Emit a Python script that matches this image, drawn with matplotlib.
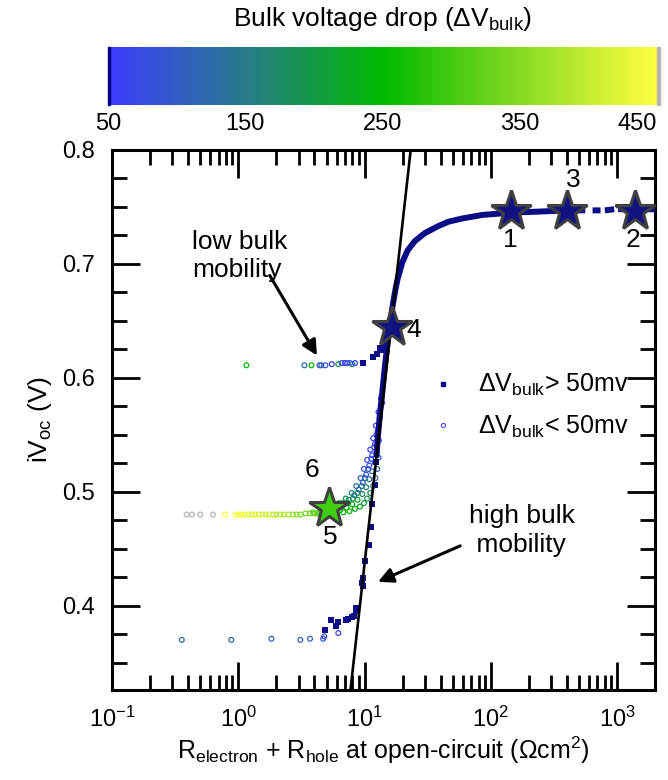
import matplotlib
matplotlib.use('Agg')
import matplotlib.pyplot as plt
import numpy as np
from matplotlib.colors import LinearSegmentedColormap, Normalize
from matplotlib.lines import Line2D
from matplotlib.patches import Rectangle

plt.rcParams['font.family'] = ['Liberation Sans', 'DejaVu Sans']
plt.rcParams['mathtext.fontset'] = 'custom'
plt.rcParams['mathtext.rm'] = 'Liberation Sans'
plt.rcParams['mathtext.it'] = 'Liberation Sans'
plt.rcParams['mathtext.bf'] = 'Liberation Sans'

# main navy curve (thick, dense part)
main_x = [12.4, 12.8, 13.3, 13.9, 14.5, 15.2, 16.0, 16.8, 17.6, 18.3, 20.0, 22.0, 25.0, 30.0,
          38.0, 46.0, 60.0, 86.0, 144.0, 250.0, 400.0, 560.0, np.nan, 640.0, 740.0, np.nan,
          800.0, 950.0, np.nan, 1020.0, 1500.0, 2000.0]
main_y = [0.53, 0.55, 0.57, 0.59, 0.61, 0.63, 0.65, 0.665, 0.678, 0.687, 0.702, 0.712, 0.720, 0.727,
          0.733, 0.737, 0.740, 0.743, 0.745, 0.746, 0.747, 0.747, np.nan, 0.747, 0.747, np.nan,
          0.747, 0.748, np.nan, 0.748, 0.748, 0.748]

# scattered navy points (dV < 50 mV region)
navy_x = [9.6, 9.75, 9.8, 10.1, 10.8, 11.3, 11.5, 12.2, 12.4,
          4.82, 5.47, 5.98, 6.2, 7.1, 7.4, 8.0, 8.3, 8.5, 8.6,
          9.8, 11.6, 12.6, 13.5, 13.2, 14.0]
navy_y = [0.420, 0.417, 0.424, 0.439, 0.453, 0.469, 0.489, 0.506, 0.526,
          0.379, 0.387, 0.382, 0.386, 0.387, 0.388, 0.390, 0.391, 0.395, 0.398,
          0.613, 0.618, 0.621, 0.624, 0.626, 0.628]

# coloured open circles: low bulk mobility row
low_x = [1.16, 3.34, 3.8, 4.4, 4.55, 4.9, 5.5, 6.2, 6.6, 7.0, 7.3, 7.7, 8.0, 8.4]
low_y = [0.611, 0.611, 0.611, 0.611, 0.611, 0.611, 0.612, 0.612, 0.613, 0.613, 0.613, 0.613, 0.612, 0.613]
low_dv = [250, 120, 250, 90, 110, 80, 60, 200, 70, 60, 70, 60, 170, 60]

# bottom row
bot_x = [0.357, 0.88, 1.83, 3.1, 3.7, 4.7, 4.8, 6.2]
bot_y = [0.370, 0.370, 0.371, 0.370, 0.371, 0.371, 0.373, 0.376]
bot_dv = [120, 120, 110, 110, 110, 100, 70, 60]

# middle row (yellow -> green) and the fan
mid_x = [0.39, 0.43, 0.50, 0.63, 0.79, 0.95, 1.0, 1.06, 1.12, 1.2, 1.28, 1.36, 1.45, 1.55, 1.65,
         1.75, 1.9, 2.0, 2.15, 2.3, 2.5, 2.7, 2.9, 3.1, 3.4, 3.7, 4.0, 4.3,
         4.5, 5.2, 6.0, 6.8, 7.6, 8.4, 9.2, 9.9, 10.5, 11.1, 11.7, 12.2, 12.6, 12.9,
         4.2, 5.0, 5.8, 6.6, 7.4, 8.1, 8.8, 9.5, 10.1, 10.7, 11.3, 11.9, 12.4,
         3.9, 4.6, 5.4, 6.3, 7.1, 7.9, 8.6, 9.3, 9.9, 10.5, 11.1, 11.7, 12.3, 12.9, 13.5,
         4.8, 5.6, 6.4, 7.2, 8.0, 8.8, 9.6, 10.3, 10.9, 11.5, 12.0, 12.5, 13.0,
         4.4, 5.1, 5.9, 6.7, 7.5, 8.3, 9.0, 9.7, 10.3, 10.9, 11.5, 12.1, 12.7, 13.2, 13.8]
mid_y = [0.480, 0.480, 0.480, 0.480, 0.480, 0.480, 0.480, 0.480, 0.480, 0.480, 0.480, 0.480, 0.480, 0.480, 0.480,
         0.480, 0.480, 0.480, 0.480, 0.480, 0.480, 0.480, 0.480, 0.480, 0.481, 0.481, 0.481, 0.481,
         0.480, 0.480, 0.481, 0.482, 0.483, 0.485, 0.487, 0.490, 0.494, 0.499, 0.505, 0.512, 0.520, 0.530,
         0.481, 0.483, 0.485, 0.487, 0.490, 0.494, 0.499, 0.505, 0.512, 0.520, 0.529, 0.539, 0.550,
         0.482, 0.484, 0.487, 0.490, 0.494, 0.499, 0.505, 0.512, 0.520, 0.528, 0.537, 0.547, 0.558, 0.570, 0.582,
         0.481, 0.482, 0.484, 0.486, 0.489, 0.493, 0.498, 0.504, 0.511, 0.518, 0.526, 0.535, 0.545,
         0.482, 0.484, 0.487, 0.490, 0.493, 0.497, 0.502, 0.508, 0.515, 0.523, 0.532, 0.542, 0.553, 0.565, 0.578]
mid_dv = [470, 470, 470, 470, 450, 445, 440, 440, 435, 430, 430, 425, 420, 415, 410,
          405, 400, 395, 390, 385, 375, 365, 355, 345, 335, 325, 315, 310,
          310, 290, 270, 255, 245, 235, 225, 210, 195, 180, 160, 140, 120, 100,
          320, 290, 265, 240, 215, 190, 170, 150, 130, 110, 95, 80, 70,
          330, 300, 270, 230, 190, 160, 130, 110, 95, 80, 70, 60, 55, 55, 55,
          300, 280, 260, 245, 230, 210, 190, 170, 150, 125, 105, 90, 75,
          315, 285, 250, 210, 175, 145, 120, 100, 85, 70, 62, 58, 55, 55, 55]

# fit line
line_x = [7.74, 23.2]
line_y = [0.326, 0.80]

# stars
star_x = [144, 1390, 401, 16.6, 5.2]
star_y = [0.7465, 0.7465, 0.7468, 0.645, 0.486]
star_col = ['#121283', '#121283', '#121283', '#121283', '#3fcf12']
star_lab = ['1', '2', '3', '4', '5', '6']
lab_x = [144, 1340, 448, 24.5, 5.37, 3.86]
lab_y = [0.721, 0.721, 0.774, 0.642, 0.460, 0.519]

cmap = LinearSegmentedColormap.from_list(
    'bulk', [(0.0, '#3c3cff'), (0.25, '#277b8a'), (0.5, '#00b900'),
             (0.75, '#86db22'), (1.0, '#ffff40')])
cmap.set_over('#b4b4b4')
cmap.set_under('#000080')
norm = Normalize(vmin=50, vmax=450)

navy = '#0c0c86'

fig = plt.figure(figsize=(6.68, 7.8), dpi=100)
ax = fig.add_axes([0.1677, 0.1154, 0.8129, 0.6923])
cax = fig.add_axes([0.1617, 0.8654, 0.822, 0.0744])

ax.plot(main_x, main_y, '-', color=navy, lw=4.3, solid_capstyle='butt', zorder=3)
ax.scatter(navy_x, navy_y, marker='s', s=14, color=navy, linewidths=0, zorder=3)
for xs, ys, dv in [(low_x, low_y, low_dv), (bot_x, bot_y, bot_dv), (mid_x, mid_y, mid_dv)]:
    cols = cmap(norm(np.array(dv)))
    ax.scatter(xs, ys, marker='o', s=12, facecolors='none', edgecolors=cols,
               linewidths=0.9, zorder=2)

ax.plot(line_x, line_y, '-', color='black', lw=1.9, zorder=4)

for i in range(len(star_x)):
    ax.plot(star_x[i], star_y[i], marker='*', ms=30, mfc=star_col[i], mec='#404040',
            mew=2.2, zorder=6, clip_on=False)
for i in range(len(star_lab)):
    ax.text(lab_x[i], lab_y[i], star_lab[i], fontsize=19, ha='center', va='center', zorder=7)

ax.annotate('', xy=(4.31, 0.6175), xytext=(1.73, 0.692),
            arrowprops=dict(arrowstyle='-|>,head_length=0.9,head_width=0.45', color='black', lw=2.2))
ax.text(0.43, 0.707, 'low bulk\nmobility', fontsize=19, ha='left', va='center', linespacing=1.25)
ax.annotate('', xy=(12.2, 0.420), xytext=(60, 0.4535),
            arrowprops=dict(arrowstyle='-|>,head_length=0.9,head_width=0.45', color='black', lw=2.2))
ax.text(66.8, 0.466, 'high bulk\n mobility', fontsize=19, ha='left', va='center', linespacing=1.25)

ax.set_xscale('log')
ax.set_xlim(0.1, 2000)
ax.set_ylim(0.326, 0.8)
ax.set_yticks([0.4, 0.5, 0.6, 0.7, 0.8])
ax.set_yticks(np.arange(0.35, 0.8, 0.025), minor=True)
ax.set_yticklabels(['0.4', '0.5', '0.6', '0.7', '0.8'])
ax.tick_params(which='both', direction='in', top=True, right=True, width=2.0, labelsize=17, pad=12)
ax.tick_params(which='major', length=20)
ax.tick_params(which='minor', length=11)
for sp in ax.spines.values():
    sp.set_linewidth(2.2)

ax.set_xlabel('R$_{electron}$ + R$_{hole}$ at open-circuit (\u03a9cm$^2$)', fontsize=18, labelpad=2)
ax.set_ylabel('iV$_{oc}$ (V)', fontsize=19, labelpad=6)

handles = [Line2D([], [], marker='s', ms=3, color=navy, ls='none'),
           Line2D([], [], marker='o', ms=3, mfc='none', mec='#4a4aff', mew=0.8, ls='none')]
ax.legend(handles, ['\u0394V$_{bulk}$> 50mv', '\u0394V$_{bulk}$< 50mv'], loc='upper left',
          bbox_to_anchor=(0.54, 0.63), frameon=False, fontsize=18, handletextpad=0.8,
          labelspacing=0.6, handlelength=1.2)

sm = matplotlib.cm.ScalarMappable(norm=norm, cmap=cmap)
cb = fig.colorbar(sm, cax=cax, orientation='horizontal', ticks=[50, 150, 250, 350, 450])
cb.outline.set_visible(False)
cax.tick_params(length=0, labelsize=17, pad=6)
cax.get_xticklabels()[-1].set_horizontalalignment('right')
cax.add_patch(Rectangle((0, 0), 0.004, 1, transform=cax.transAxes, color='#000080', clip_on=False))
cax.add_patch(Rectangle((1.0, 0), 0.006, 1, transform=cax.transAxes, color='#b4b4b4', clip_on=False))
fig.text(0.572, 0.976, 'Bulk voltage drop (\u0394V$_{bulk}$)', fontsize=19, ha='center', va='center')

fig.savefig('out.png', dpi=100)
